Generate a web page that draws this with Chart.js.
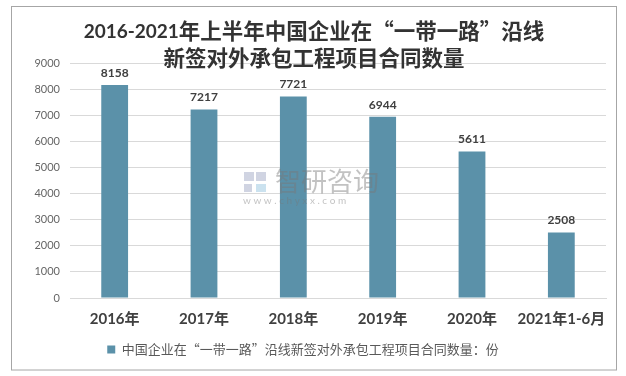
<!DOCTYPE html>
<html>
<head>
<meta charset="utf-8">
<script src="https://cdn.jsdelivr.net/npm/chart.js@4.4.1/dist/chart.umd.min.js"></script>
<style>
  html, body { margin: 0; padding: 0; background: #ffffff; }
  #wrap { width: 626px; height: 376px; position: relative; }
</style>
</head>
<body>
<div id="wrap"><canvas id="c" width="626" height="376"></canvas></div>
<script>
const categories = ['2016年', '2017年', '2018年', '2019年', '2020年', '2021年1-6月'];
const contractCounts = [8158, 7217, 7721, 6944, 5611, 2508];
const yTicks = [0, 1000, 2000, 3000, 4000, 5000, 6000, 7000, 8000, 9000];
const titleLine1Num = '2016-2021';
const titleLine1Rest = '年上半年中国企业在“一带一路”沿线';
const titleLine2 = '新签对外承包工程项目合同数量';
const seriesName = '中国企业在“一带一路”沿线新签对外承包工程项目合同数量：份';
const watermarkText = ['智研咨询', 'w w w . c h y x x . c o m'];

const barColor = '#5B91A9';
const CJK = '"Noto Sans CJK SC", sans-serif';
const MIX = 'Lato, "Noto Sans CJK SC", sans-serif';

const frame = {
  id: 'frame',
  beforeDraw(chart) {
    const ctx = chart.ctx;
    ctx.save();
    ctx.fillStyle = '#ffffff';
    ctx.fillRect(0, 0, chart.width, chart.height);
    ctx.strokeStyle = '#a6a6a6';
    ctx.lineWidth = 1;
    ctx.strokeRect(11.5, 6.5, 605, 363.5);
    ctx.restore();
  },
  afterDatasetsDraw(chart) {
    const ctx = chart.ctx;
    ctx.save();
    // watermark (semi-transparent, over the bars)
    ctx.fillStyle = 'rgba(150,160,190,0.45)';
    ctx.fillRect(244, 172, 10, 9);
    ctx.fillRect(256, 172, 10, 9);
    ctx.fillRect(244, 184, 8, 8);
    ctx.fillStyle = 'rgba(140,190,220,0.45)';
    ctx.fillRect(256, 184, 10, 8);
    ctx.fillStyle = 'rgba(120,120,120,0.45)';
    ctx.font = '26px ' + CJK;
    ctx.textAlign = 'left';
    ctx.textBaseline = 'middle';
    ctx.fillText(watermarkText[0], 275, 181);
    ctx.font = '10px ' + MIX;
    ctx.fillText(watermarkText[1], 243, 201);
    ctx.restore();
  },
  afterDraw(chart) {
    const ctx = chart.ctx;
    ctx.save();
    ctx.fillStyle = '#333333';
    ctx.textBaseline = 'middle';
    // title line 1 in two pieces (Latin digits + CJK part)
    const numFont = 'bold 19px Lato, sans-serif';
    const cjkFont = 'bold 21.5px ' + CJK;
    ctx.font = numFont;
    const w1 = ctx.measureText(titleLine1Num).width;
    ctx.font = cjkFont;
    const w2 = ctx.measureText(titleLine1Rest).width;
    const x0 = 314 - (w1 + w2) / 2;
    ctx.textAlign = 'left';
    ctx.font = numFont;
    ctx.fillText(titleLine1Num, x0, 32);
    ctx.font = cjkFont;
    ctx.fillText(titleLine1Rest, x0 + w1, 31);
    ctx.textAlign = 'center';
    ctx.fillText(titleLine2, 314, 58);
    // data labels
    const meta = chart.getDatasetMeta(0);
    ctx.font = 'bold 12px ' + MIX;
    ctx.fillStyle = '#404040';
    meta.data.forEach((bar, i) => {
      ctx.fillText(String(contractCounts[i]), bar.x, bar.y - 12);
    });
    ctx.restore();
  }
};

new Chart(document.getElementById('c'), {
  type: 'bar',
  data: {
    labels: categories,
    datasets: [{
      label: seriesName,
      data: contractCounts,
      backgroundColor: barColor,
      borderWidth: 0,
      barPercentage: 0.6,
      categoryPercentage: 0.5
    }]
  },
  options: {
    responsive: false,
    animation: false,
    devicePixelRatio: 1,
    layout: { padding: { top: 63, right: 20, bottom: 10, left: 0 } },
    plugins: {
      title: { display: false },
      tooltip: { enabled: false },
      legend: {
        display: true,
        position: 'bottom',
        labels: {
          boxWidth: 8,
          boxHeight: 8,
          padding: 10,
          color: '#595959',
          font: { family: CJK, size: 13 }
        }
      }
    },
    scales: {
      x: {
        grid: { display: false, drawTicks: false },
        border: { display: true, color: '#d9d9d9' },
        ticks: {
          color: '#404040',
          padding: 12,
          maxRotation: 0,
          autoSkip: false,
          font: { family: MIX, size: 15, weight: 'bold' }
        },
        afterFit(scale) { scale.height = 35; }
      },
      y: {
        min: 0,
        max: 9000,
        afterBuildTicks(scale) { scale.ticks = yTicks.map(v => ({ value: v })); },
        grid: { color: '#d9d9d9', drawTicks: false },
        border: { display: false },
        ticks: {
          color: '#666666',
          padding: 10,
          font: { family: MIX, size: 11 },
          callback: (v) => String(v)
        },
        afterFit(scale) { scale.width = 70; }
      }
    }
  },
  plugins: [frame]
});
</script>
</body>
</html>
